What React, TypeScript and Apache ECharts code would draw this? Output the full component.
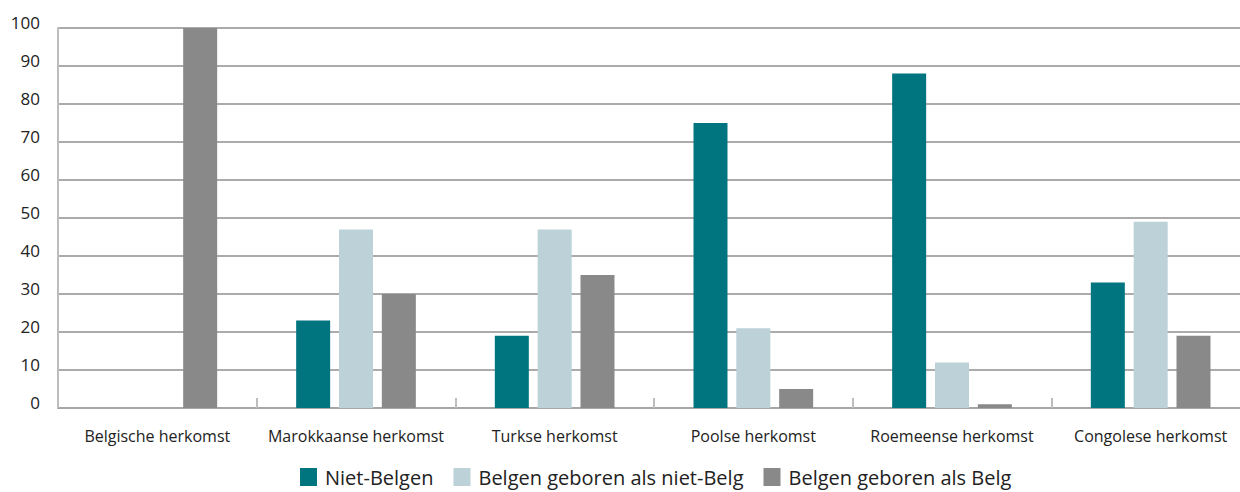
import React, { useEffect, useRef } from "react";
import * as echarts from "echarts";

const categories = [
  "Belgische herkomst",
  "Marokkaanse herkomst",
  "Turkse herkomst",
  "Poolse herkomst",
  "Roemeense herkomst",
  "Congolese herkomst",
];
const nietBelgen = [0, 23, 19, 75, 88, 33];
const belgenNietBelg = [0, 47, 47, 21, 12, 49];
const belgenBelg = [100, 30, 35, 5, 1, 19];
const seriesNames = ["Niet-Belgen", "Belgen geboren als niet-Belg", "Belgen geboren als Belg"];
const colors = ["#007580", "#bcd1d8", "#898989"];

export default function App() {
  const ref = useRef<HTMLDivElement>(null);
  useEffect(() => {
    if (!ref.current) return;
    const chart = echarts.init(ref.current, null, { renderer: "svg" });
    const font = "'Open Sans', sans-serif";
    const data = [nietBelgen, belgenNietBelg, belgenBelg];
    chart.setOption({
      animation: false,
      grid: { left: 58, top: 28, height: 380, width: 1192, outerBoundsMode: "none" },
      legend: {
        left: 300,
        top: 467,
        padding: 0,
        itemWidth: 17,
        itemHeight: 18,
        itemGap: 20,
        icon: "rect",
        textStyle: { fontFamily: font, fontSize: 20, lineHeight: 18, color: "#222", padding: [0, 0, 0, 3] },
        data: seriesNames,
      },
      xAxis: {
        type: "category",
        data: categories,
        axisLine: { show: true, lineStyle: { color: "#a6a6a6", width: 2 } },
        axisTick: { show: true, inside: true, interval: 0, length: 10, lineStyle: { color: "#bdbdbd", width: 2 } },
        axisLabel: { fontFamily: font, fontSize: 16, color: "#222", margin: 20, interval: 0 },
      },
      yAxis: {
        type: "value",
        min: 0,
        max: 100,
        interval: 10,
        axisLine: { show: true, lineStyle: { color: "#bdbdbd", width: 2 } },
        axisTick: { show: false },
        splitLine: { lineStyle: { color: "#ababab", width: 2 } },
        axisLabel: {
          fontFamily: font,
          fontSize: 17,
          color: "#222",
          margin: 18,
          verticalAlign: "bottom",
          lineHeight: 11,
        },
      },
      series: seriesNames.map((name, i) => ({
        name,
        type: "bar",
        data: data[i],
        barWidth: 34,
        barGap: "26%",
        itemStyle: { color: colors[i] },
      })),
    });
    return () => chart.dispose();
  }, []);
  return (
    <div
      ref={ref}
      style={{ position: "absolute", left: 0, top: 0, width: 1240, height: 492 }}
    />
  );
}
